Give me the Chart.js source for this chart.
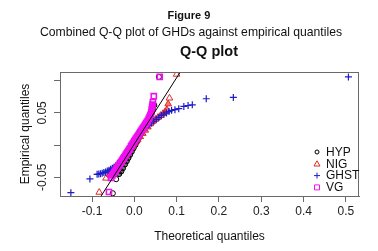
<!DOCTYPE html>
<html>
<head>
<meta charset="utf-8">
<script src="https://cdn.jsdelivr.net/npm/chart.js@4/dist/chart.umd.min.js"></script>
<style>
  html, body { margin: 0; padding: 0; background: #fff; }
  #wrap { position: relative; width: 378px; height: 251px; overflow: hidden; font-family: "Liberation Sans", Arial, sans-serif; color: #111; }
  #c { position: absolute; left: 0; top: 0; }
  .t { position: absolute; left: 0; width: 378px; text-align: center; white-space: nowrap; line-height: 1; }
  #t1 { top: 10px; font-size: 11px; font-weight: bold; left: 0px; }
  #t2 { top: 26px; font-size: 12.2px; left: 2px; }
  #t3 { top: 44px; font-size: 14.5px; font-weight: bold; left: 20px; }
</style>
</head>
<body>
<div id="wrap">
  <canvas id="c" width="378" height="251"></canvas>
  <div class="t" id="t1">Figure 9</div>
  <div class="t" id="t2">Combined Q-Q plot of GHDs against empirical quantiles</div>
  <div class="t" id="t3">Q-Q plot</div>
</div>
<script>
// ---------- data ----------
const seriesNames = ["HYP", "NIG", "GHST", "VG"];

const hypX = [-0.051, -0.043, -0.036, -0.031, -0.027, -0.022, -0.018, -0.014, -0.010, -0.006, -0.002, 0.002, 0.006, 0.010, 0.014, 0.018, 0.022, 0.026, 0.030, 0.034, 0.038, 0.041, 0.044, 0.047, 0.058];
const hypY = [-0.075, -0.053, -0.045, -0.041, -0.036, -0.030, -0.025, -0.020, -0.015, -0.010, -0.005, 0.000, 0.005, 0.010, 0.015, 0.020, 0.025, 0.030, 0.035, 0.040, 0.045, 0.050, 0.055, 0.062, 0.106];

const nigX = [-0.083, -0.067, -0.058, -0.052, -0.046, -0.040, -0.034, -0.028, -0.022, -0.016, -0.010, -0.004, 0.002, 0.008, 0.014, 0.020, 0.026, 0.032, 0.038, 0.044, 0.050, 0.056, 0.062, 0.068, 0.073, 0.077, 0.080, 0.083, 0.100];
const nigY = [-0.0735, -0.0516, -0.046, -0.042, -0.037, -0.032, -0.027, -0.022, -0.017, -0.012, -0.007, -0.002, 0.003, 0.008, 0.013, 0.018, 0.023, 0.028, 0.033, 0.037, 0.040, 0.043, 0.046, 0.049, 0.052, 0.055, 0.064, 0.073, 0.110];

const ghstX = [-0.150, -0.105, -0.088, -0.084, -0.080, -0.076, -0.072, -0.068, -0.064, -0.060, -0.056, -0.052, -0.048, -0.044, -0.040, -0.036, -0.032, -0.026, -0.020, -0.014, -0.008, -0.002, 0.004, 0.010, 0.016, 0.022, 0.028, 0.034, 0.040, 0.046, 0.052, 0.058, 0.064, 0.070, 0.076, 0.082, 0.088, 0.096, 0.105, 0.117, 0.127, 0.137, 0.170, 0.234, 0.506];
const ghstY = [-0.074, -0.0527, -0.0455, -0.0450, -0.0445, -0.0437, -0.0428, -0.0418, -0.0405, -0.0392, -0.0378, -0.0362, -0.0345, -0.0325, -0.0300, -0.0272, -0.0240, -0.019, -0.013, -0.008, -0.002, 0.004, 0.010, 0.015, 0.020, 0.024, 0.028, 0.031, 0.034, 0.037, 0.040, 0.043, 0.046, 0.048, 0.050, 0.052, 0.054, 0.055, 0.0565, 0.0600, 0.0615, 0.0625, 0.0720, 0.0740, 0.1060];

const vgX = [-0.060, -0.055, -0.052, -0.050, -0.048, -0.046, -0.044, -0.042, -0.040, -0.038, -0.036, -0.034, -0.032, -0.030, -0.028, -0.026, -0.024, -0.022, -0.020, -0.018, -0.016, -0.014, -0.012, -0.010, -0.008, -0.006, -0.004, -0.002, 0.000, 0.002, 0.004, 0.006, 0.008, 0.010, 0.012, 0.014, 0.016, 0.018, 0.020, 0.022, 0.024, 0.026, 0.028, 0.030, 0.032, 0.034, 0.036, 0.038, 0.040, 0.041, 0.042, 0.043, 0.044, 0.046, 0.060];
const vgY = [-0.073, -0.051, -0.047, -0.045, -0.043, -0.041, -0.039, -0.037, -0.035, -0.033, -0.031, -0.029, -0.027, -0.025, -0.023, -0.021, -0.019, -0.017, -0.015, -0.013, -0.011, -0.009, -0.007, -0.005, -0.002, 0.000, 0.002, 0.004, 0.006, 0.008, 0.010, 0.012, 0.014, 0.016, 0.018, 0.020, 0.022, 0.024, 0.026, 0.028, 0.030, 0.032, 0.034, 0.036, 0.038, 0.041, 0.044, 0.047, 0.051, 0.055, 0.059, 0.063, 0.067, 0.076, 0.106];

// reference line (clipped to the plot region)
const refLineX = [-0.090, 0.120];
const refLineY = [-0.0910, 0.1253];

// axes
const xTickVals = [-0.1, 0.0, 0.1, 0.2, 0.3, 0.4, 0.5];
const yTickVals = [-0.05, 0.0, 0.05, 0.1];
const yLabelVals = [-0.05, 0.05];
const xRange = [-0.1757, 0.531];
const yRange = [-0.0792, 0.1136];

// ---------- chart ----------
const FONT = '"Liberation Sans", Arial, sans-serif';
const colors = { HYP: '#000000', NIG: '#e02828', GHST: '#1c1cc8', VG: '#f010f0' };
const fills = { HYP: 'rgba(0,0,0,0.55)', NIG: 'rgba(224,40,40,0.6)', GHST: 'rgba(0,0,0,0)', VG: 'rgba(240,16,240,0.85)' };
const styles = { HYP: 'circle', NIG: 'triangle', GHST: 'cross', VG: 'rect' };
const radii = { HYP: 2.6, NIG: 3.8, GHST: 3.5, VG: 3.6 };
const widths = { HYP: 1, NIG: 1, GHST: 1.2, VG: 1.6 };
const zip = (xs, ys) => xs.map((v, i) => ({ x: v, y: ys[i] }));
const seriesData = { HYP: zip(hypX, hypY), NIG: zip(nigX, nigY), GHST: zip(ghstX, ghstY), VG: zip(vgX, vgY) };
// dense central part of each cloud is filled, isolated tail points stay open
const isCore = (raw) => raw && raw.y > -0.05 && raw.y < 0.066;

const datasets = seriesNames.map((n, i) => ({
  type: 'scatter',
  label: n,
  data: seriesData[n],
  pointStyle: styles[n],
  pointRadius: radii[n],
  pointBorderWidth: widths[n],
  borderColor: colors[n],
  backgroundColor: (c) => isCore(c.raw) ? fills[n] : 'rgba(0,0,0,0)',
  order: 5 - i
}));
datasets.push({
  type: 'line',
  label: 'ref',
  data: zip(refLineX, refLineY),
  borderColor: '#000',
  borderWidth: 1,
  pointRadius: 0,
  order: 0
});

const GRAY = '#6a6a6a';
const extras = {
  id: 'extras',
  afterDraw(chart) {
    const { ctx, chartArea: a, scales } = chart;
    ctx.save();
    ctx.strokeStyle = GRAY;
    ctx.lineWidth = 1;
    ctx.strokeRect(Math.round(a.left) + 0.5, Math.round(a.top) + 0.5, Math.round(a.right - a.left) - 1, Math.round(a.bottom - a.top));
    // rotated y tick labels
    ctx.fillStyle = '#222';
    ctx.font = '12px ' + FONT;
    ctx.textAlign = 'center';
    ctx.textBaseline = 'middle';
    yLabelVals.forEach(v => {
      const py = scales.y.getPixelForValue(v);
      ctx.save();
      ctx.translate(43, py);
      ctx.rotate(-Math.PI / 2);
      ctx.fillText(v.toFixed(2), 0, 0);
      ctx.restore();
    });
    // legend inside the plot, bottom right
    const lx = 317, tx = 326;
    const ly0 = 152, step = 11.8;
    ctx.textAlign = 'left';
    ctx.font = '12px ' + FONT;
    seriesNames.forEach((n, i) => {
      const y = ly0 + i * step;
      ctx.strokeStyle = colors[n];
      ctx.lineWidth = 1;
      ctx.beginPath();
      if (n === 'HYP') { ctx.arc(lx, y, 2, 0, Math.PI * 2); }
      else if (n === 'NIG') { ctx.moveTo(lx, y - 3); ctx.lineTo(lx + 3, y + 2.2); ctx.lineTo(lx - 3, y + 2.2); ctx.closePath(); }
      else if (n === 'GHST') { ctx.moveTo(lx - 3, y); ctx.lineTo(lx + 3, y); ctx.moveTo(lx, y - 3); ctx.lineTo(lx, y + 3); }
      else { ctx.rect(lx - 2.5, y - 2.5, 5, 5); }
      ctx.stroke();
      ctx.fillStyle = '#111';
      ctx.fillText(n, tx, y + 0.5);
    });
    ctx.restore();
  }
};

new Chart(document.getElementById('c'), {
  type: 'scatter',
  data: { datasets },
  options: {
    responsive: false,
    animation: false,
    devicePixelRatio: 1,
    layout: { padding: { top: 72, right: 19, left: 0, bottom: 0 } },
    plugins: { legend: { display: false }, tooltip: { enabled: false }, title: { display: false } },
    scales: {
      x: {
        type: 'linear', min: xRange[0], max: xRange[1],
        afterBuildTicks: s => { s.ticks = xTickVals.map(v => ({ value: v })); },
        afterFit: s => { s.height = 55; },
        ticks: { font: { size: 12, family: FONT }, color: '#222', padding: 2, callback: v => Number(v).toFixed(1) },
        grid: { display: true, drawOnChartArea: false, drawTicks: true, tickLength: 6, color: GRAY },
        border: { display: true, color: GRAY },
        title: { display: true, text: 'Theoretical quantiles', font: { size: 12, family: FONT }, color: '#111', padding: { top: 0, bottom: 7 } }
      },
      y: {
        type: 'linear', min: yRange[0], max: yRange[1],
        afterBuildTicks: s => { s.ticks = yTickVals.map(v => ({ value: v })); },
        afterFit: s => { s.width = 60; },
        ticks: { font: { size: 12, family: FONT }, color: 'rgba(0,0,0,0)', padding: 2 },
        grid: { display: true, drawOnChartArea: false, drawTicks: true, tickLength: 6, color: GRAY },
        border: { display: true, color: GRAY },
        title: { display: true, text: 'Empirical quantiles', font: { size: 12, family: FONT }, color: '#111', padding: { top: 18, bottom: 0 } }
      }
    }
  },
  plugins: [extras]
});
</script>
</body>
</html>
